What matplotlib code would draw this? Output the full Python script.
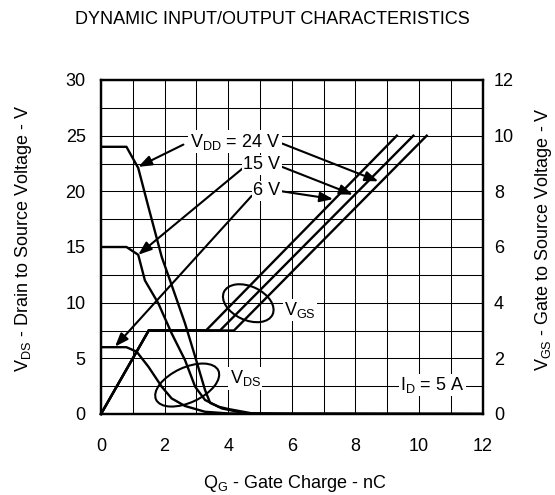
import matplotlib
matplotlib.use("Agg")
import matplotlib.pyplot as plt
import matplotlib.transforms as mtransforms
from matplotlib.patches import Ellipse

plt.rcParams['font.family'] = ['Liberation Sans', 'DejaVu Sans']
plt.rcParams['mathtext.fontset'] = 'custom'
plt.rcParams['mathtext.rm'] = 'Liberation Sans'
plt.rcParams['mathtext.it'] = 'Liberation Sans'

# ---------------- data ----------------
x_ticks = [0, 2, 4, 6, 8, 10, 12]
vds_ticks = [0, 5, 10, 15, 20, 25, 30]
vgs_ticks = [0, 2, 4, 6, 8, 10, 12]

# V_GS curves (right axis), Q_G in nC
qg_vgs_6 = [0, 1.5, 3.3, 9.3]
vgs_6 = [0, 3.0, 3.0, 10.0]
qg_vgs_15 = [0, 1.5, 3.74, 9.82]
vgs_15 = [0, 3.0, 3.0, 10.0]
qg_vgs_24 = [0, 1.5, 4.18, 10.24]
vgs_24 = [0, 3.0, 3.0, 10.0]

# V_DS curves (left axis)
qg_vds_6 = [0, 0.8, 1.12, 1.49, 1.91, 2.22, 2.64, 3.27, 4.0, 5.0, 12]
vds_6 = [6, 6, 5.6, 4.25, 2.45, 1.4, 0.72, 0.2, 0.05, 0.02, 0]
qg_vds_15 = [0, 0.8, 1.17, 1.38, 1.8, 2.22, 2.64, 2.96, 3.27, 3.8, 4.53, 5.5, 12]
vds_15 = [15, 15, 14.3, 12, 9.95, 7.25, 4.85, 2.45, 1.26, 0.5, 0.06, 0.02, 0]
qg_vds_24 = [0, 0.8, 1.17, 1.49, 1.91, 2.17, 2.64, 2.96, 3.27, 3.43, 3.7, 4.0, 4.74, 6, 12]
vds_24 = [24, 24, 22.1, 18.6, 14.1, 12, 8.15, 5.15, 2.16, 1.0, 0.65, 0.45, 0.06, 0.02, 0]

# ---------------- figure ----------------
W, H = 555, 495
fig = plt.figure(figsize=(W / 100, H / 100), dpi=100)
L, R, T, B = 101, 482.7, 80, 414
ax = fig.add_axes([L / W, 1 - B / H, (R - L) / W, (B - T) / H])
ax.set_xlim(0, 12)
ax.set_ylim(0, 30)
ax2 = ax.twinx()
ax2.set_ylim(0, 12)

# grid
ax.set_xticks(range(0, 13))
ax.set_yticks([i * 2.5 for i in range(13)])
ax.grid(True, color='black', linewidth=0.75)
ax.set_xticklabels([str(v) if v in x_ticks else '' for v in range(0, 13)], fontsize=13)
ax.set_yticklabels([('%d' % v if abs(v - round(v)) < 1e-9 and int(round(v)) in vds_ticks else '')
                    for v in [i * 2.5 for i in range(13)]], fontsize=13)
ax.tick_params(axis='x', length=0, pad=17)
ax.tick_params(axis='y', length=0, pad=11)
ax2.set_yticks(vgs_ticks)
ax2.set_yticklabels([str(v) for v in vgs_ticks], fontsize=13)
ax2.tick_params(axis='y', length=0, pad=8)
for a in (ax, ax2):
    for s in a.spines.values():
        s.set_linewidth(1.6)
        s.set_color('black')

lw = 1.7
for q, v in ((qg_vgs_6, vgs_6), (qg_vgs_15, vgs_15), (qg_vgs_24, vgs_24)):
    ax2.plot(q, v, color='black', linewidth=lw, solid_joinstyle='miter', clip_on=False, zorder=3)
for q, v in ((qg_vds_6, vds_6), (qg_vds_15, vds_15), (qg_vds_24, vds_24)):
    ax.plot(q, v, color='black', linewidth=lw, zorder=3)

# labels with arrows (VDS axis coordinates)
box = dict(facecolor='white', edgecolor='none', pad=1.0)
ax.text(5.63, 24.47, r'$\mathregular{V_{DD}}$ = 24 V', ha='right', va='center', fontsize=13, bbox=box, zorder=5)
ax.text(5.63, 22.37, '15 V', ha='right', va='center', fontsize=13, bbox=box, zorder=5)
ax.text(5.63, 20.04, '6 V', ha='right', va='center', fontsize=13, bbox=box, zorder=5)
aprops = dict(arrowstyle='-|>,head_length=0.8,head_width=0.3', color='black', linewidth=1.5,
              shrinkA=0, shrinkB=0)
arrows = [((2.59, 24.2), (1.17, 22.2)), ((5.69, 24.3), (8.72, 20.9)),
          ((4.47, 22.1), (1.17, 14.3)), ((5.69, 22.2), (7.92, 19.7)),
          ((4.74, 19.6), (0.44, 6.05)), ((5.69, 20.0), (7.3, 19.3))]
for start, end in arrows:
    ax.annotate('', xy=end, xytext=start, arrowprops=aprops, zorder=4)

ax.text(6.26, 9.34, r'$\mathregular{V_{GS}}$', ha='center', va='center', fontsize=13, bbox=box, zorder=5)
ax.text(4.53, 3.2, r'$\mathregular{V_{DS}}$', ha='center', va='center', fontsize=13, bbox=box, zorder=5)
ax.text(10.41, 2.6, r'$\mathregular{I_{D}}$ = 5 A', ha='center', va='center', fontsize=13, bbox=box, zorder=5)

# ellipses (sizes in inches)
for (xc, yc), w, h, ang in (((4.63, 9.95), 0.536, 0.336, -25), ((2.71, 2.6), 0.687, 0.35, 25)):
    tr = fig.dpi_scale_trans + mtransforms.ScaledTranslation(xc, yc, ax.transData)
    e = Ellipse((0, 0), w, h, angle=ang, transform=tr, fill=False, edgecolor='black', linewidth=1.5, zorder=4)
    ax.add_patch(e)

# titles / axis labels
fig.text(272.5 / W, 1 - 24 / H, 'DYNAMIC INPUT/OUTPUT CHARACTERISTICS', ha='center', va='baseline', fontsize=13)
fig.text(295 / W, 1 - 488 / H, r'$\mathregular{Q_{G}}$ - Gate Charge - nC', ha='center', va='baseline', fontsize=13)
fig.text(24 / W, 1 - 238 / H, r'$\mathregular{V_{DS}}$ - Drain to Source Voltage - V', ha='center', va='center',
         rotation=90, fontsize=13)
fig.text(544 / W, 1 - 239 / H, r'$\mathregular{V_{GS}}$ - Gate to Source Voltage - V', ha='center', va='center',
         rotation=90, fontsize=13)

fig.savefig('out.png', dpi=100)
